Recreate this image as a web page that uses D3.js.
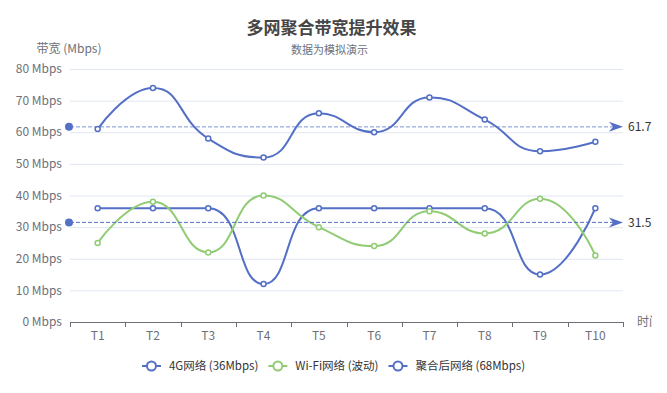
<!DOCTYPE html>
<html><head><meta charset="utf-8">
<script src="https://cdn.jsdelivr.net/npm/d3@7"></script>
<style>
html,body{margin:0;padding:0;background:#fff;}
svg{display:block;font-family:"Noto Sans CJK SC","Noto Sans",sans-serif;}
</style></head>
<body><svg id="c" width="667" height="393"></svg>
<script>
const categories = ["T1","T2","T3","T4","T5","T6","T7","T8","T9","T10"];
const series4G = [36,36,36,12,36,36,36,36,15,36];
const seriesWifi = [25,38,22,40,30,24,35,28,39,21];
const seriesAgg = [61,74,58,52,66,60,71,64,54,57];
const yTicks = [0,10,20,30,40,50,60,70,80];
const seriesNames = ["4G网络 (36Mbps)","Wi-Fi网络 (波动)","聚合后网络 (68Mbps)"];
const colors = ["#5470c6","#91cc75","#5470c6"];

(function(){
const svg = d3.select("#c");
const W = 667, H = 393;
const gLeft = 70, gRight = 623, gTop = 69, gBottom = 322;

const x = d3.scaleBand().domain(categories).range([gLeft, gRight]);
const y = d3.scaleLinear().domain([0, 80]).range([gBottom, gTop]);

svg.append("defs").append("clipPath").attr("id","vis").append("rect")
  .attr("x",0).attr("y",0).attr("width",652).attr("height",H);

// title
svg.append("text").attr("x", W/2 - 2).attr("y", 34).attr("text-anchor","middle")
  .attr("font-size",17).attr("font-weight","bold").attr("fill","#464646").text("多网聚合带宽提升效果");
svg.append("text").attr("x", W/2 - 4).attr("y", 54).attr("text-anchor","middle")
  .attr("font-size",11).attr("fill","#6E7079").text("数据为模拟演示");

// grid lines
svg.append("g").selectAll("line").data(yTicks.filter(d=>d>0)).join("line")
  .attr("x1", gLeft).attr("x2", gRight).attr("y1", d=>y(d)+0.5).attr("y2", d=>y(d)+0.5)
  .attr("stroke","#E0E6F1").attr("stroke-width",1);

// y axis labels
svg.append("g").selectAll("text").data(yTicks).join("text")
  .attr("x", gLeft-8).attr("y", d=>y(d)).attr("dy","0.35em").attr("text-anchor","end")
  .attr("font-size",12).attr("fill","#6E7079").text(d=>d+" Mbps");
svg.append("text").attr("x", 69).attr("y", 53).attr("text-anchor","middle")
  .attr("font-size",12).attr("fill","#6E7079").text("带宽 (Mbps)");

// x axis
svg.append("line").attr("x1",gLeft).attr("x2",gRight).attr("y1",gBottom+0.5).attr("y2",gBottom+0.5)
  .attr("stroke","#6E7079").attr("stroke-width",1);
const edges = categories.map(c=>x(c)).concat([x.range()[1]]);
svg.append("g").selectAll("line").data(edges).join("line")
  .attr("x1",d=>Math.round(d)+0.5).attr("x2",d=>Math.round(d)+0.5).attr("y1",gBottom).attr("y2",gBottom+5)
  .attr("stroke","#6E7079");
svg.append("g").selectAll("text").data(categories).join("text")
  .attr("x", d=>x(d)+x.bandwidth()/2).attr("y", gBottom+14).attr("dy","0.35em").attr("text-anchor","middle")
  .attr("font-size",12).attr("fill","#6E7079").text(d=>d);
svg.append("text").attr("x", gRight+14).attr("y", gBottom).attr("dy","0.35em")
  .attr("clip-path","url(#vis)")
  .attr("font-size",12).attr("fill","#6E7079").text("时间");

// echarts-like smoothing
function smoothPath(pts, smooth){
  let d = "", cpx0, cpy0;
  const n = pts.length;
  for (let i=0;i<n;i++){
    const xx=pts[i][0], yy=pts[i][1];
    if (i===0){ d += `M${xx},${yy}`; cpx0=xx; cpy0=yy; continue; }
    let cpx1, cpy1, ncx, ncy;
    if (i < n-1){
      const [px,py]=pts[i-1], [nx,ny]=pts[i+1];
      let vx=nx-px, vy=ny-py;
      const lenPrev=Math.hypot(xx-px,yy-py), lenNext=Math.hypot(nx-xx,ny-yy);
      const ratio = lenNext/(lenNext+lenPrev);
      ncx = xx + vx*smooth*ratio; ncy = yy + vy*smooth*ratio;
      ncx = Math.max(Math.min(ncx, Math.max(nx,xx)), Math.min(nx,xx));
      ncy = Math.max(Math.min(ncy, Math.max(ny,yy)), Math.min(ny,yy));
      vx = ncx-xx; vy = ncy-yy;
      cpx1 = xx - vx*lenPrev/lenNext; cpy1 = yy - vy*lenPrev/lenNext;
      cpx1 = Math.max(Math.min(cpx1, Math.max(px,xx)), Math.min(px,xx));
      cpy1 = Math.max(Math.min(cpy1, Math.max(py,yy)), Math.min(py,yy));
      vx = xx-cpx1; vy = yy-cpy1;
      ncx = xx + vx*lenNext/lenPrev; ncy = yy + vy*lenNext/lenPrev;
    } else { cpx1=xx; cpy1=yy; ncx=xx; ncy=yy; }
    d += `C${cpx0},${cpy0},${cpx1},${cpy1},${xx},${yy}`;
    cpx0=ncx; cpy0=ncy;
  }
  return d;
}

const allSeries = [series4G, seriesWifi, seriesAgg];
const cx = c => x(c)+x.bandwidth()/2;

function markLine(vals, color, op){
  const avg = d3.mean(vals);
  const yy = y(avg);
  const g = svg.append("g");
  g.append("line").attr("x1",gLeft).attr("x2",gRight-6).attr("y1",yy).attr("y2",yy)
    .attr("stroke",color).attr("stroke-width",1).attr("stroke-dasharray","4,2").attr("stroke-opacity",op);
  g.append("circle").attr("cx",gLeft-1).attr("cy",yy).attr("r",4).attr("fill",color);
  g.append("path").attr("d",`M${gRight},${yy} L${gRight-14},${yy-5} L${gRight-10},${yy} L${gRight-14},${yy+5}Z`).attr("fill",color);
  g.append("text").attr("x",gRight+5).attr("y",yy).attr("dy","0.35em").attr("font-size",12).attr("fill","#333")
    .text(d3.format(".1f")(avg));
}

allSeries.forEach((vals,i)=>{
  const pts = vals.map((v,j)=>[cx(categories[j]), y(v)]);
  svg.append("path").attr("d", smoothPath(pts,0.5)).attr("fill","none")
    .attr("stroke",colors[i]).attr("stroke-width",2);
});
markLine(seriesAgg, colors[2], 0.75);
markLine(series4G, colors[0], 1);
allSeries.forEach((vals,i)=>{
  svg.append("g").selectAll("circle").data(vals).join("circle")
    .attr("cx",(d,j)=>cx(categories[j])).attr("cy",d=>y(d)).attr("r",2.5)
    .attr("fill","#fff").attr("stroke",colors[i]).attr("stroke-width",1.5);
});

// legend
const lg = svg.append("g");
const items = [];
seriesNames.forEach((name,i)=>{
  const g = lg.append("g");
  g.append("line").attr("x1",0).attr("x2",19).attr("y1",0).attr("y2",0).attr("stroke",colors[i]).attr("stroke-width",2);
  g.append("circle").attr("cx",9.5).attr("cy",0).attr("r",4.5).attr("fill","#fff").attr("stroke",colors[i]).attr("stroke-width",2);
  const t = g.append("text").attr("x",27).attr("y",0).attr("dy","0.35em").attr("font-size",11.5).attr("fill","#333").text(name);
  const w = 27 + t.node().getComputedTextLength();
  items.push({g,w});
});
const totalW = d3.sum(items,d=>d.w) + 10*(items.length-1);
let curX = (W - totalW)/2;
items.forEach(it=>{ it.g.attr("transform",`translate(${curX},366)`); curX += it.w + 10; });
})();
</script></body></html>
